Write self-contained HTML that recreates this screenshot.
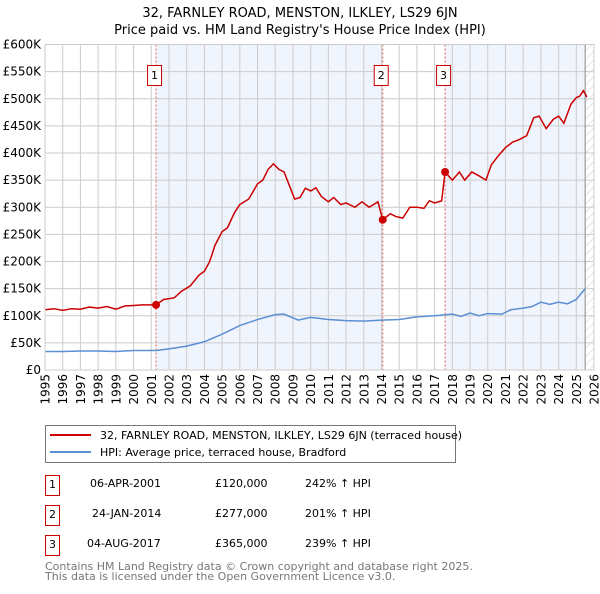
<!DOCTYPE html>
<html><head><meta charset="utf-8"><style>
body{margin:0;background:#fff;font-family:"DejaVu Sans","Liberation Sans",sans-serif;}
svg text{font-family:"DejaVu Sans","Liberation Sans",sans-serif;}
</style></head><body>
<svg id="c" width="600" height="590" xmlns="http://www.w3.org/2000/svg">
<text x="300" y="17" text-anchor="middle" font-size="13">32, FARNLEY ROAD, MENSTON, ILKLEY, LS29 6JN</text>
<text x="300" y="34" text-anchor="middle" font-size="13">Price paid vs. HM Land Registry's House Price Index (HPI)</text>
<defs><pattern id="h" width="6" height="6" patternUnits="userSpaceOnUse" patternTransform="rotate(45)"><line x1="0" y1="0" x2="0" y2="6" stroke="#ccc" stroke-width="1"/></pattern></defs>
<g id="plot"></g>
<g>
<rect x="45.5" y="425.5" width="410" height="37" fill="#fff" stroke="#777"/>
<line x1="50" y1="435" x2="91" y2="435" stroke="#cc0000" stroke-width="2"/>
<text x="100" y="439" font-size="11">32, FARNLEY ROAD, MENSTON, ILKLEY, LS29 6JN (terraced house)</text>
<line x1="50" y1="452" x2="91" y2="452" stroke="#5b8fd4" stroke-width="2"/>
<text x="100" y="456" font-size="11">HPI: Average price, terraced house, Bradford</text>
</g>
<g font-size="11">
<rect x="45.5" y="475.5" width="14" height="20" fill="#fff" stroke="#cc0000"/><text x="52.5" y="488" text-anchor="middle">1</text>
<text x="90" y="487">06-APR-2001</text><text x="215" y="487">£120,000</text><text x="305" y="487">242% ↑ HPI</text>
<rect x="45.5" y="505.5" width="14" height="20" fill="#fff" stroke="#cc0000"/><text x="52.5" y="518" text-anchor="middle">2</text>
<text x="92" y="517">24-JAN-2014</text><text x="215" y="517">£277,000</text><text x="305" y="517">201% ↑ HPI</text>
<rect x="45.5" y="535.5" width="14" height="20" fill="#fff" stroke="#cc0000"/><text x="52.5" y="548" text-anchor="middle">3</text>
<text x="87" y="547">04-AUG-2017</text><text x="215" y="547">£365,000</text><text x="305" y="547">239% ↑ HPI</text>
</g>
<text x="45" y="570" font-size="11" fill="#777">Contains HM Land Registry data © Crown copyright and database right 2025.</text>
<text x="45" y="580" font-size="11" fill="#777">This data is licensed under the Open Government Licence v3.0.</text>
</svg>
<script>
const yTicks=[0,50,100,150,200,250,300,350,400,450,500,550,600];
const yTickLabels=["£0","£50K","£100K","£150K","£200K","£250K","£300K","£350K","£400K","£450K","£500K","£550K","£600K"];
const xYears=[1995,1996,1997,1998,1999,2000,2001,2002,2003,2004,2005,2006,2007,2008,2009,2010,2011,2012,2013,2014,2015,2016,2017,2018,2019,2020,2021,2022,2023,2024,2025,2026];
const priceDates=[1995,1995.5,1996,1996.5,1997,1997.5,1998,1998.5,1999,1999.5,2000,2000.5,2001.27,2001.7,2002.3,2002.7,2003.2,2003.7,2004,2004.3,2004.6,2005,2005.3,2005.7,2006,2006.5,2007,2007.3,2007.6,2007.9,2008.2,2008.5,2008.8,2009.1,2009.4,2009.7,2010,2010.3,2010.6,2011,2011.3,2011.7,2012,2012.5,2012.9,2013.3,2013.8,2014.07,2014.5,2014.8,2015.2,2015.6,2016,2016.4,2016.7,2017,2017.4,2017.59,2018,2018.4,2018.7,2019.1,2019.5,2019.9,2020.2,2020.6,2021,2021.4,2021.8,2022.2,2022.6,2022.9,2023.3,2023.7,2024,2024.3,2024.7,2025,2025.2,2025.4,2025.6];
const priceValues=[111,113,110,113,112,116,114,117,112,118,119,120,120,130,133,145,155,175,182,200,230,255,262,290,305,315,343,350,370,380,370,365,340,315,318,335,330,336,320,310,318,305,308,300,310,300,310,277,288,283,280,300,300,298,312,308,312,365,350,365,350,365,358,350,378,395,410,420,425,432,465,468,445,462,468,455,490,502,505,515,503];
const hpiDates=[1995,1996,1997,1998,1999,2000,2001.27,2002,2003,2004,2005,2006,2007,2008,2008.5,2009.3,2010,2011,2012,2013,2014,2015,2016,2017,2018,2018.5,2019,2019.5,2020,2020.8,2021.3,2022,2022.5,2023,2023.5,2024,2024.5,2025,2025.5];
const hpiValues=[34,34,35,35,34,36,36,39,44,52,66,82,93,102,103,92,97,93,91,90,92,93,98,100,103,99,105,100,104,103,111,114,117,125,121,125,122,130,150];
const saleDates=[2001.27,2014.07,2017.59];
const saleValues=[120,277,365];
const saleLabels=["1","2","3"];
const X0=45,X1=594,Y0=370,Y1=44.5;
const xs=d=>X0+(d-1995)/(2026-1995)*(X1-X0);
const ys=v=>Y0-v/600*(Y0-Y1);
const NS="http://www.w3.org/2000/svg";
const g=document.getElementById('plot');
function mk(t,a,p){const e=document.createElementNS(NS,t);for(const k in a)e.setAttribute(k,a[k]);(p||g).appendChild(e);return e;}
let r=mk('rect',{x:xs(saleDates[0]),y:Y1,width:xs(saleDates[1])-xs(saleDates[0]),height:Y0-Y1,fill:'#f0f4fc'});


r=mk('rect',{x:xs(saleDates[2]),y:Y1,width:xs(2025.5)-xs(saleDates[2]),height:Y0-Y1,fill:'#f0f4fc'});


r=mk('rect',{x:xs(2025.5),y:Y1,width:X1-xs(2025.5),height:Y0-Y1,fill:'url(#h)'});


yTicks.forEach((v,i)=>{const l=mk('line',{x1:X0,x2:X1,y1:ys(v),y2:ys(v),stroke:'#ccc'});


const t=mk('text',{x:X0-4,y:ys(v)+4,'text-anchor':'end','font-size':12});t.textContent=yTickLabels[i];

});
xYears.forEach(y=>{const l=mk('line',{x1:xs(y),x2:xs(y),y1:Y1,y2:Y0,stroke:'#ccc'});


const tx=xs(y)+4.5,ty=374;
const t=mk('text',{x:tx,y:ty,'text-anchor':'end','font-size':12,transform:'rotate(-90 '+tx+' '+ty+')'});t.textContent=y;

});
const ed=mk('line',{x1:xs(2025.5),x2:xs(2025.5),y1:Y1,y2:Y0,stroke:'#888'});


saleDates.forEach((d,i)=>{const l=mk('line',{x1:xs(d),x2:xs(d),y1:Y1,y2:Y0,stroke:'#e06060','stroke-dasharray':'2,2'});


const b=mk('rect',{x:xs(d)-8.5,y:65.5,width:14,height:20,fill:'#fff',stroke:'#cc0000'});


const t=mk('text',{x:xs(d)-1.5,y:79,'text-anchor':'middle','font-size':11});t.textContent=saleLabels[i];

});
const hp=mk('polyline',{points:hpiDates.map((d,i)=>xs(d)+','+ys(hpiValues[i])).join(' '),fill:'none',stroke:'#5b8fd4','stroke-width':1.5});


const pp=mk('polyline',{points:priceDates.map((d,i)=>xs(d)+','+ys(priceValues[i])).join(' '),fill:'none',stroke:'#cc0000','stroke-width':1.5});


saleDates.forEach((d,i)=>{const c=mk('circle',{cx:xs(d),cy:ys(saleValues[i]),r:4,fill:'#cc0000'});

});
const ax=mk('rect',{x:X0,y:Y1,width:X1-X0,height:Y0-Y1,fill:'none',stroke:'#ccc'});


</script>
</body></html>
